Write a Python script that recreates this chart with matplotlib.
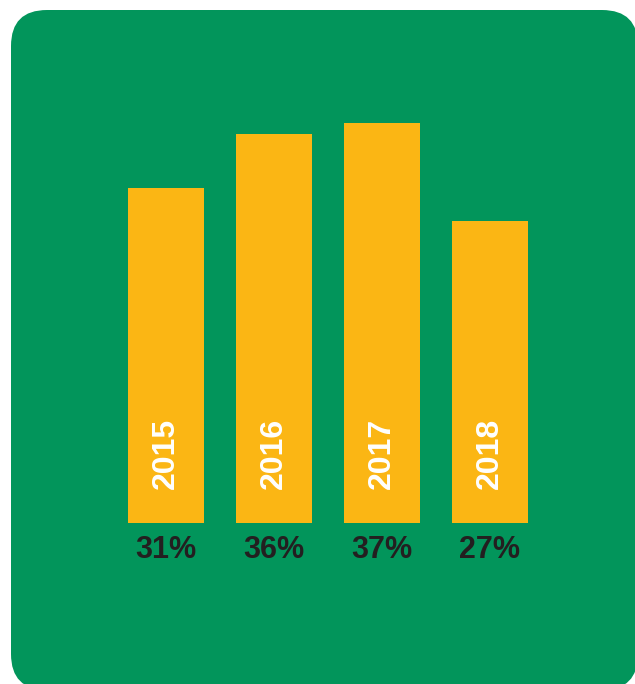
import matplotlib
matplotlib.use("Agg")
import matplotlib.pyplot as plt
from matplotlib.patches import FancyBboxPatch

years = ["2015", "2016", "2017", "2018"]
shares = [31, 36, 37, 28]          # bar heights (%)
share_labels = ["31%", "36%", "37%", "27%"]

green = "#02955B"
yellow = "#FBB614"
dark = "#231F20"

plt.rcParams["font.family"] = ["Liberation Sans", "DejaVu Sans"]

fig = plt.figure(figsize=(6.35, 6.84), dpi=100)
fig.patch.set_facecolor("white")

# rounded green panel, pixel coords (origin top left)
bg = fig.add_axes([0, 0, 1, 1])
bg.set_xlim(0, 635)
bg.set_ylim(684, 0)
bg.axis("off")
bg.add_patch(FancyBboxPatch((11, 10), 627, 680,
                            boxstyle="round,pad=0,rounding_size=36",
                            facecolor=green, edgecolor="none"))

# bar axes: baseline at y=523 px, 10.8 px per percent
W, H = 635, 684
ax = fig.add_axes([112 / W, 161 / H, 432 / W, 432 / H])
ax.set_xlim(-0.5, 3.5)
ax.set_ylim(0, 40)
ax.axis("off")

x = range(len(years))
ax.bar(x, shares, width=0.704, color=yellow, edgecolor="none")

for xi, yr, lab in zip(x, years, share_labels):
    ax.annotate(yr, (xi, 0), xytext=(0, 24.5), textcoords="offset points",
                rotation=90, ha="center", va="bottom", color="white",
                fontsize=23, fontweight="bold")
    ax.annotate(lab, (xi, 0), xytext=(0, -25.2), textcoords="offset points",
                ha="center", va="baseline", color=dark,
                fontsize=22, fontweight="bold", annotation_clip=False)

fig.savefig("out.png", dpi=100, facecolor="white")
